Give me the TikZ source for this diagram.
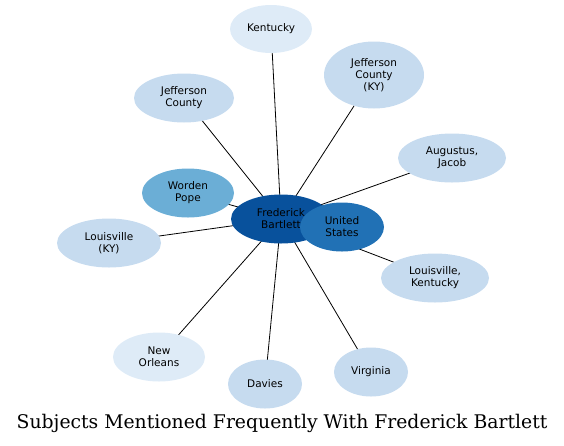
\documentclass[tikz,border=0pt]{standalone}
\usepackage{fontspec}
\newfontfamily\nodefont{DejaVu Sans}
\newfontfamily\titlefont{DejaVu Serif}
\usetikzlibrary{shapes.geometric,backgrounds}
\definecolor{cA}{HTML}{08519C}
\definecolor{cB}{HTML}{2171B5}
\definecolor{cC}{HTML}{6BAED6}
\definecolor{cD}{HTML}{C6DBEF}
\definecolor{cE}{HTML}{DEEBF7}
\tikzset{
  bub/.style={ellipse, draw=none, inner sep=0pt, font=\nodefont\fontsize{10.5}{12}\selectfont, align=center, text=black},
  link/.style={draw=black, line width=0.8pt}
}
\begin{document}
\begin{tikzpicture}[x=1pt,y=-1pt]
\useasboundingbox (0,0) rectangle (564,445);
\node[bub, fill=cE, minimum width=82, minimum height=48] (ky) at (271,29) {Kentucky};
\node[bub, fill=cD, minimum width=100, minimum height=67] (jcky) at (374,75) {Jefferson\\County\\(KY)};
\node[bub, fill=cD, minimum width=100, minimum height=49] (jc) at (184,98) {Jefferson\\County};
\node[bub, fill=cD, minimum width=108, minimum height=49] (aj) at (452,158) {Augustus,\\Jacob};
\node[bub, fill=cC, minimum width=92, minimum height=49] (wp) at (188,193) {Worden\\Pope};
\node[bub, fill=cD, minimum width=104, minimum height=49] (lky) at (109,243) {Louisville\\(KY)};
\node[bub, fill=cD, minimum width=108, minimum height=49] (lk) at (435,278) {Louisville,\\Kentucky};
\node[bub, fill=cE, minimum width=92, minimum height=49] (no) at (159,357) {New\\Orleans};
\node[bub, fill=cD, minimum width=74, minimum height=49] (dv) at (265,384) {Davies};
\node[bub, fill=cD, minimum width=74, minimum height=49] (va) at (371,372) {Virginia};
\node[bub, fill=cA, minimum width=100, minimum height=49] (fb) at (281,219) {Frederick\\Bartlett};
\node[bub, fill=cB, minimum width=84, minimum height=49] (us) at (342,227) {United\\States};
\begin{pgfonlayer}{background}
\foreach \t in {ky,jcky,jc,aj,wp,lky,lk,no,dv,va,us}
  \draw[link] (fb.center) -- (\t.center);
\end{pgfonlayer}
\node[font=\titlefont\fontsize{18.8}{22}\selectfont] (title) at (282,423) {Subjects Mentioned Frequently With Frederick Bartlett};
\end{tikzpicture}
\end{document}
